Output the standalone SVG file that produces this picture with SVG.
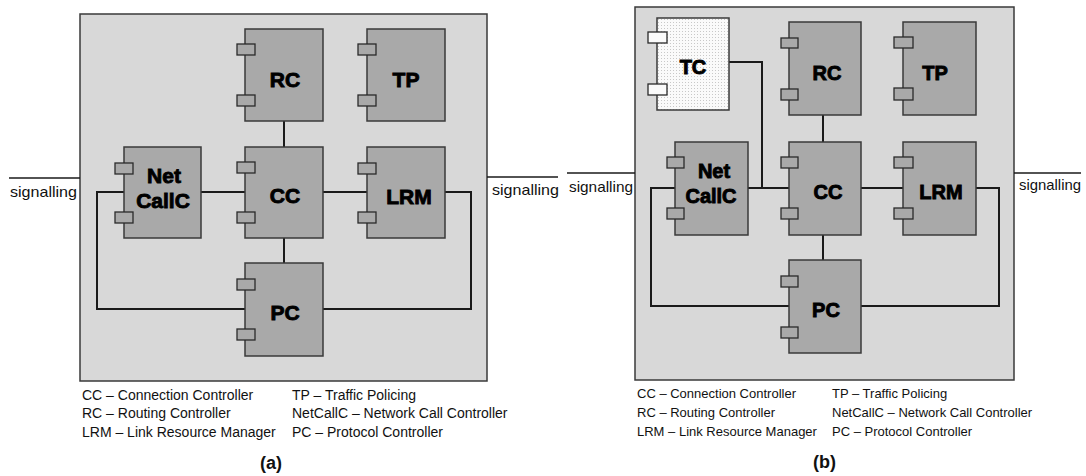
<svg xmlns="http://www.w3.org/2000/svg" width="1086" height="476" viewBox="0 0 1086 476">
<defs>
<pattern id="dots" width="3" height="3" patternUnits="userSpaceOnUse">
<rect width="3" height="3" fill="#fafafa"/>
<rect x="1" y="1" width="1" height="1" fill="#c8c8c8"/>
</pattern>
</defs>
<style>
.panel{fill:#d8d8d8;stroke:#3a3a3a;stroke-width:1.5}
.node{fill:#a9a9a9;stroke:#3a3a3a;stroke-width:1.5}
.port{fill:#a9a9a9;stroke:#2a2a2a;stroke-width:1.3}
.tc{fill:url(#dots);stroke:#3a3a3a;stroke-width:1.5}
.tcport{fill:#fafafa;stroke:#2a2a2a;stroke-width:1.3}
.wire{fill:none;stroke:#1a1a1a;stroke-width:2}
.sig{fill:none;stroke:#1a1a1a;stroke-width:1.5}
.lbl{font-family:"Liberation Sans",Arial,sans-serif;font-weight:bold;fill:#000;stroke:#000;stroke-width:0.9;text-anchor:middle}
.la{font-size:21px}
.lb{font-size:20px}
.txt{font-family:"Liberation Sans",Arial,sans-serif;fill:#111}
.sg{font-size:15px}
.lga{font-size:14px}
.lgb{font-size:13px}
.cap{font-family:"Liberation Sans",Arial,sans-serif;font-weight:bold;font-size:18px;fill:#111}
</style>

<!-- Panel (a) -->
<rect class="panel" x="80" y="14" width="407" height="367"/>
<g id="connectors-a">
<line class="sig" x1="9" y1="178" x2="80" y2="178"/>
<line class="sig" x1="487" y1="177" x2="558" y2="177"/>
<line class="wire" x1="284" y1="121" x2="284" y2="147"/>
<line class="wire" x1="284" y1="238" x2="284" y2="263"/>
<line class="wire" x1="201" y1="192" x2="245" y2="192"/>
<line class="wire" x1="323" y1="192" x2="367" y2="192"/>
<polyline class="wire" points="124,192 97,192 97,309 245,309"/>
<polyline class="wire" points="445,192 471,192 471,309 323,309"/>
</g>
<g id="a-RC">
<rect class="node" x="245" y="29" width="78" height="92"/>
<rect class="port" x="237" y="44" width="18" height="11"/>
<rect class="port" x="237" y="95" width="18" height="11"/>
<text class="lbl la" x="285" y="87">RC</text>
</g>
<g id="a-TP">
<rect class="node" x="367" y="29" width="78" height="92"/>
<rect class="port" x="358" y="44" width="18" height="11"/>
<rect class="port" x="358" y="95" width="18" height="11"/>
<text class="lbl la" x="406" y="87">TP</text>
</g>
<g id="a-CC">
<rect class="node" x="245" y="147" width="78" height="91"/>
<rect class="port" x="237" y="162" width="18" height="11"/>
<rect class="port" x="237" y="212" width="18" height="11"/>
<text class="lbl la" x="285" y="203">CC</text>
</g>
<g id="a-NetCallC">
<rect class="node" x="124" y="147" width="77" height="91"/>
<rect class="port" x="115" y="163" width="18" height="11"/>
<rect class="port" x="115" y="212" width="18" height="11"/>
<text class="lbl la" x="164" y="183">Net</text>
<text class="lbl la" x="163" y="208">CallC</text>
</g>
<g id="a-LRM">
<rect class="node" x="367" y="147" width="78" height="91"/>
<rect class="port" x="358" y="163" width="18" height="11"/>
<rect class="port" x="358" y="212" width="18" height="11"/>
<text class="lbl la" x="409" y="204">LRM</text>
</g>
<g id="a-PC">
<rect class="node" x="245" y="263" width="78" height="93"/>
<rect class="port" x="237" y="279" width="18" height="11"/>
<rect class="port" x="237" y="329" width="18" height="11"/>
<text class="lbl la" x="285" y="320">PC</text>
</g>
<text class="txt sg" x="10" y="197" textLength="67" lengthAdjust="spacingAndGlyphs">signalling</text>
<text class="txt sg" x="492" y="195" textLength="67" lengthAdjust="spacingAndGlyphs">signalling</text>
<g class="txt lga">
<text x="82" y="400">CC – Connection Controller</text>
<text x="82" y="418">RC – Routing Controller</text>
<text x="82" y="437">LRM – Link Resource Manager</text>
<text x="292" y="400">TP – Traffic Policing</text>
<text x="292" y="418">NetCallC – Network Call Controller</text>
<text x="292" y="437">PC – Protocol Controller</text>
</g>
<text class="cap" x="260" y="469">(a)</text>

<!-- Panel (b) -->
<rect class="panel" x="635" y="7" width="379" height="373"/>
<g id="connectors-b">
<line class="sig" x1="567" y1="173" x2="635" y2="173"/>
<line class="sig" x1="1014" y1="173" x2="1081" y2="173"/>
<line class="wire" x1="823" y1="115" x2="823" y2="142"/>
<line class="wire" x1="823" y1="235" x2="823" y2="260"/>
<line class="wire" x1="748" y1="188" x2="789" y2="188"/>
<line class="wire" x1="861" y1="188" x2="903" y2="188"/>
<polyline class="wire" points="729,62 762,62 762,188"/>
<polyline class="wire" points="675,188 651,188 651,306 789,306"/>
<polyline class="wire" points="976,188 999,188 999,306 861,306"/>
</g>
<g id="b-TC">
<rect class="tc" x="657" y="18" width="72" height="92"/>
<rect class="tcport" x="648" y="32" width="19" height="11"/>
<rect class="tcport" x="648" y="84" width="19" height="11"/>
<text class="lbl lb" x="693" y="74">TC</text>
</g>
<g id="b-RC">
<rect class="node" x="789" y="22" width="72" height="93"/>
<rect class="port" x="781" y="38" width="17" height="10"/>
<rect class="port" x="781" y="89" width="17" height="11"/>
<text class="lbl lb" x="827" y="80">RC</text>
</g>
<g id="b-TP">
<rect class="node" x="903" y="22" width="73" height="93"/>
<rect class="port" x="894" y="37" width="19" height="11"/>
<rect class="port" x="894" y="88" width="19" height="12"/>
<text class="lbl lb" x="935" y="80">TP</text>
</g>
<g id="b-CC">
<rect class="node" x="789" y="142" width="72" height="93"/>
<rect class="port" x="781" y="157" width="17" height="11"/>
<rect class="port" x="781" y="208" width="17" height="11"/>
<text class="lbl lb" x="828" y="199">CC</text>
</g>
<g id="b-NetCallC">
<rect class="node" x="675" y="142" width="73" height="93"/>
<rect class="port" x="667" y="157" width="17" height="11"/>
<rect class="port" x="667" y="208" width="17" height="11"/>
<text class="lbl lb" x="714" y="178">Net</text>
<text class="lbl lb" x="711" y="203">CallC</text>
</g>
<g id="b-LRM">
<rect class="node" x="903" y="142" width="73" height="93"/>
<rect class="port" x="894" y="157" width="19" height="11"/>
<rect class="port" x="894" y="208" width="19" height="11"/>
<text class="lbl lb" x="941" y="199">LRM</text>
</g>
<g id="b-PC">
<rect class="node" x="789" y="260" width="72" height="93"/>
<rect class="port" x="781" y="276" width="17" height="11"/>
<rect class="port" x="781" y="327" width="17" height="11"/>
<text class="lbl lb" x="826" y="317">PC</text>
</g>
<text class="txt sg" x="569" y="192" textLength="64" lengthAdjust="spacingAndGlyphs">signalling</text>
<text class="txt sg" x="1019" y="190" textLength="62" lengthAdjust="spacingAndGlyphs">signalling</text>
<g class="txt lgb">
<text x="637" y="398">CC – Connection Controller</text>
<text x="637" y="417">RC – Routing Controller</text>
<text x="637" y="436">LRM – Link Resource Manager</text>
<text x="832" y="398">TP – Traffic Policing</text>
<text x="832" y="417">NetCallC – Network Call Controller</text>
<text x="832" y="436">PC – Protocol Controller</text>
</g>
<text class="cap" x="813" y="468">(b)</text>
</svg>
